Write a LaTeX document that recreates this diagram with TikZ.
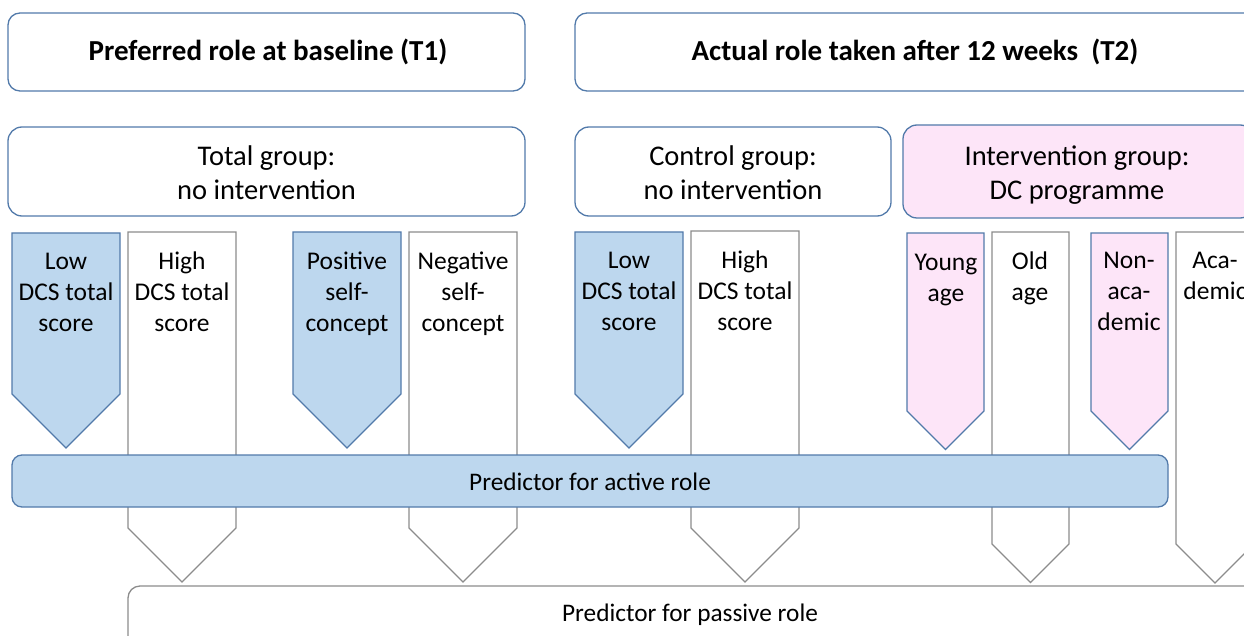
\documentclass[tikz,border=0pt]{standalone}
\usepackage{fontspec}
\setmainfont{Carlito}
\definecolor{bdblue}{RGB}{82,122,170}
\definecolor{fillblue}{RGB}{189,215,238}
\definecolor{fillpink}{RGB}{253,229,248}
\definecolor{bdgray}{RGB}{140,140,140}
\tikzset{
  hdrbox/.style={draw=bdblue, line width=1.3pt, rounded corners=12pt},
  bluearr/.style={draw=bdblue, fill=fillblue, line width=1.3pt, line join=miter},
  pinkarr/.style={draw=bdblue, fill=fillpink, line width=1.3pt, line join=miter},
  grayarr/.style={draw=bdgray, fill=white, line width=1.3pt, line join=miter},
  lbl/.style={anchor=north, inner sep=0pt, align=center,
    font=\fontsize{25.5}{31}\selectfont, execute at begin node=\strut},
  grptxt/.style={inner sep=0pt, align=center, font=\fontsize{28.5}{34}\selectfont},
  ttltxt/.style={inner sep=0pt, font=\bfseries\fontsize{29}{34}\selectfont},
  predtxt/.style={inner sep=0pt, font=\fontsize{25.3}{30}\selectfont}
}
% pentagon pointing down: #1 style, #2 left x, #3 right x, #4 top y, #5 shoulder y
\newcommand\pentdown[5]{%
  \draw[#1] (#2,#4) -- (#3,#4) -- (#3,#5) -- ({(#2+#3)/2},{#5+(#3-#2)/2}) -- (#2,#5) -- cycle;}
\begin{document}
\begin{tikzpicture}[x=1pt,y=-1pt]
\useasboundingbox (0,0) rectangle (1244,636);
\clip (0,0) rectangle (1244,636);

% heading boxes
\draw[hdrbox] (8,13) rectangle (525,91);
\node[ttltxt] (t1) at (268,52) {Preferred role at baseline (T1)};
\draw[hdrbox] (575,13) rectangle (1256,91);
\node[ttltxt] (t2) at (915,52) {Actual role taken after 12 weeks\ \ (T2)};

% group boxes
\draw[hdrbox, rounded corners=14pt] (8,127) rectangle (525,216);
\node[grptxt] (gtot) at (266.5,173) {Total group:\\no intervention};
\draw[hdrbox, rounded corners=14pt] (575,127) rectangle (891,216);
\node[grptxt] (gctl) at (733,173) {Control group:\\no intervention};
\draw[hdrbox, rounded corners=14pt, fill=fillpink] (903,125) rectangle (1254,218);
\node[grptxt] (gint) at (1077,175.5) {Intervention group:\\DC programme};

% passive-role predictors (behind the active bar)
\pentdown{grayarr}{128}{236}{232}{528}
\pentdown{grayarr}{409}{517}{232}{528}
\pentdown{grayarr}{691}{799}{231}{528}
\pentdown{grayarr}{992}{1069}{232}{544}
\pentdown{grayarr}{1176}{1254}{232}{544}

% bottom bars
\draw[draw=bdgray, line width=1.3pt, rounded corners=12pt] (128,586) rectangle (1256,680);
\node[predtxt] (pas) at (690,615) {Predictor for passive role};
\draw[bluearr, rounded corners=10pt] (12,455) rectangle (1168,507);
\node[predtxt] (act) at (590,482) {Predictor for active role};

% active-role predictors
\pentdown{bluearr}{12}{120}{233}{394}
\pentdown{bluearr}{293}{401}{232}{394}
\pentdown{bluearr}{575}{683}{232}{394}
\pentdown{pinkarr}{907}{984}{233}{411}
\pentdown{pinkarr}{1091}{1168}{233}{411}

% labels
\node[lbl] (l1) at (66,253) {Low\\DCS total\\score};
\node[lbl] (l2) at (182,252) {High\\DCS total\\score};
\node[lbl] (l3) at (347,252) {Positive\\self-\\concept};
\node[lbl] (l4) at (463,252) {Negative\\self-\\concept};
\node[lbl] (l5) at (629,252) {Low\\DCS total\\score};
\node[lbl] (l6) at (745,251) {High\\DCS total\\score};
\node[lbl] (l7) at (946,254) {Young\\age};
\node[lbl] (l8) at (1030,252) {Old\\age};
\node[lbl] (l9) at (1129,252) {Non-\\aca-\\demic};
\node[lbl] (l10) at (1215,252) {Aca-\\demic};
\end{tikzpicture}
\end{document}
